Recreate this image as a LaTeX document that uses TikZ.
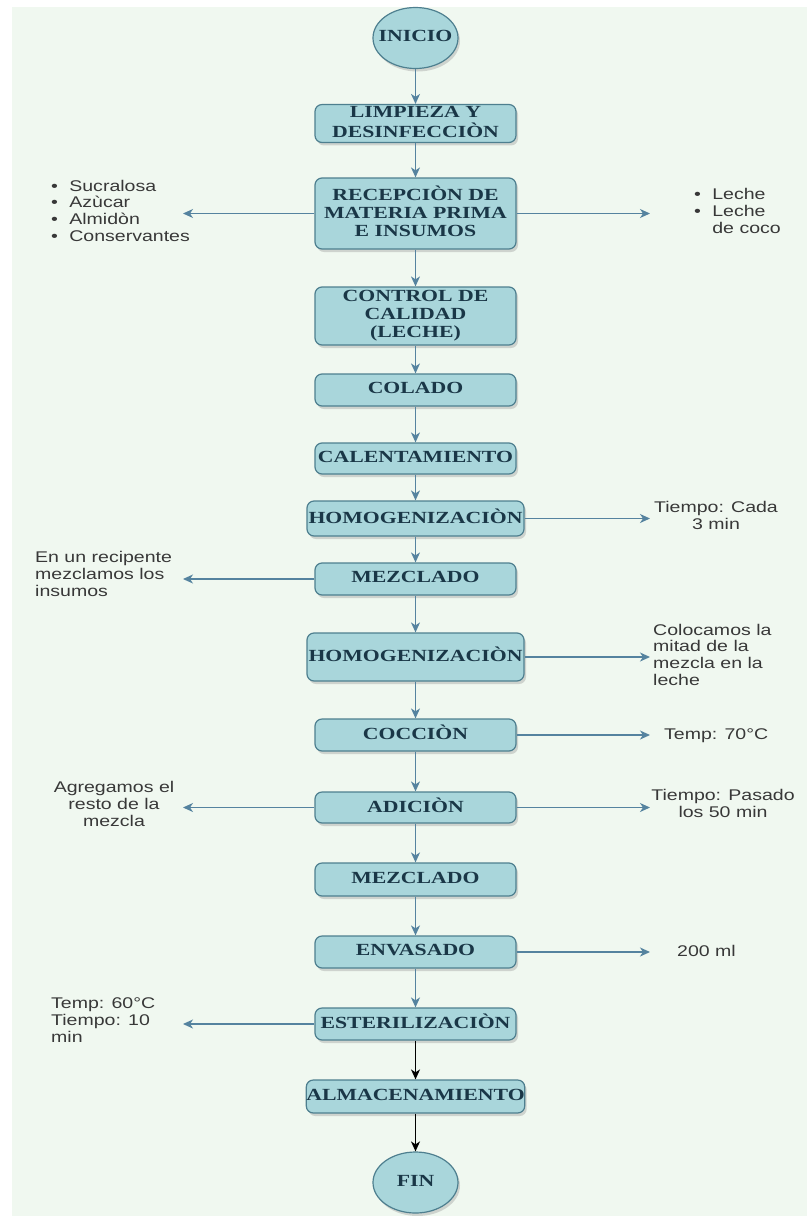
\documentclass[tikz,border=0pt]{standalone}
\usepackage{fontspec}
\usepackage{graphicx}
\setmainfont{Liberation Serif}
\setsansfont{Liberation Sans}
\usetikzlibrary{shapes.geometric,shadows,arrows.meta}
\definecolor{bgc}{HTML}{F0F8F0}
\definecolor{boxfill}{HTML}{A9D6DB}
\definecolor{boxdraw}{HTML}{4E7F8F}
\definecolor{boxtext}{HTML}{1A3747}
\definecolor{arrowc}{HTML}{55839F}
\definecolor{sidec}{HTML}{383838}
\newcommand{\bxt}[1]{\scalebox{1.28}[1]{\begin{tabular}{@{}c@{}}#1\end{tabular}}}
\newcommand{\sdc}[1]{\scalebox{1.26}[1]{\begin{tabular}{@{}c@{}}#1\end{tabular}}}
\newcommand{\sdl}[1]{\scalebox{1.26}[1]{\begin{tabular}{@{}l@{}}#1\end{tabular}}}
\newcommand{\sdb}[1]{\scalebox{1.26}[1]{\begin{tabular}{@{}l@{\hspace{9pt}}l@{}}#1\end{tabular}}}
\tikzset{
  proc/.style={rectangle, rounded corners=7pt, draw=boxdraw, line width=1.2pt,
    fill=boxfill, minimum width=201pt, inner sep=0pt, text=boxtext,
    font=\bfseries\fontsize{17}{18}\selectfont,
    drop shadow={shadow xshift=2pt, shadow yshift=-3pt, opacity=0.3}},
  wproc/.style={proc, minimum width=217pt},
  term/.style={ellipse, draw=boxdraw, line width=1.2pt, fill=boxfill,
    minimum width=85pt, minimum height=61pt, inner sep=0pt,
    drop shadow={shadow xshift=2pt, shadow yshift=-3pt, opacity=0.3}},
  termtext/.style={text=boxtext, inner sep=0pt, font=\bfseries\fontsize{17}{18}\selectfont},
  arr/.style={draw=arrowc, line width=1.3pt, -{Stealth[length=10pt,width=9pt,inset=3pt]}},
  barr/.style={draw=black, line width=1.3pt, -{Stealth[length=10pt,width=9pt,inset=3pt]}},
  side/.style={inner sep=0pt, text=sidec, font=\sffamily\fontsize{15.5}{16.8}\selectfont},
}
\begin{document}
\begin{tikzpicture}[x=1pt,y=-1pt]
\useasboundingbox (0,0) rectangle (807,1216);
\fill[bgc] (12,7) rectangle (807,1216);

\node[term, label={[termtext]center:\bxt{INICIO}}] (ini) at (415.5,38) {};
\node[proc, minimum height=37pt] (limp) at (415.5,123.5) {\bxt{LIMPIEZA Y\\DESINFECCIÒN}};
\node[proc, minimum height=71pt] (rec) at (415.5,213.5) {\bxt{RECEPCIÒN DE\\MATERIA PRIMA\\E INSUMOS}};
\node[proc, minimum height=58pt] (ctrl) at (415.5,316) {\bxt{CONTROL DE\\CALIDAD\\(LECHE)}};
\node[proc, minimum height=32pt] (col) at (415.5,390) {\bxt{COLADO}};
\node[proc, minimum height=31pt] (cal) at (415.5,458.5) {\bxt{CALENTAMIENTO}};
\node[wproc, minimum height=35pt] (hom1) at (415.5,518.5) {\bxt{HOMOGENIZACIÒN}};
\node[proc, minimum height=32pt] (mez1) at (415.5,579) {\bxt{MEZCLADO}};
\node[wproc, minimum height=48pt] (hom2) at (415.5,657) {\bxt{HOMOGENIZACIÒN}};
\node[proc, minimum height=32pt] (coc) at (415.5,735) {\bxt{COCCIÒN}};
\node[proc, minimum height=31pt] (adi) at (415.5,807.5) {\bxt{ADICIÒN}};
\node[proc, minimum height=33pt] (mez2) at (415.5,879.5) {\bxt{MEZCLADO}};
\node[proc, minimum height=32pt] (env) at (415.5,952) {\bxt{ENVASADO}};
\node[proc, minimum height=32pt] (est) at (415.5,1024) {\bxt{ESTERILIZACIÒN}};
\node[wproc, minimum height=33pt] (alm) at (415.5,1096.5) {\bxt{ALMACENAMIENTO}};
\node[term, label={[termtext]center:\bxt{FIN}}] (fin) at (415.5,1182.5) {};

\draw[arr] (ini) -- (limp);
\draw[arr] (limp) -- (rec);
\draw[arr] (rec) -- (ctrl);
\draw[arr] (ctrl) -- (col);
\draw[arr] (col) -- (cal);
\draw[arr] (cal) -- (hom1);
\draw[arr] (hom1) -- (mez1);
\draw[arr] (mez1) -- (hom2);
\draw[arr] (hom2) -- (coc);
\draw[arr] (coc) -- (adi);
\draw[arr] (adi) -- (mez2);
\draw[arr] (mez2) -- (env);
\draw[arr] (env) -- (est);
\draw[barr] (est) -- (alm);
\draw[barr] (alm) -- (fin);

% side notes
\node[side, anchor=west] (tins) at (51,213) {\sdb{\textbullet & Sucralosa\\ \textbullet & Azùcar\\ \textbullet & Almidòn\\ \textbullet & Conservantes}};
\node[side, anchor=west] (tlec) at (694,213) {\sdb{\textbullet & Leche\\ \textbullet & Leche\\ & de coco}};
\node[side] (th1) at (716,518) {\sdc{Tiempo: Cada\\3 min}};
\node[side, anchor=west] (tm1) at (35,576) {\sdl{En un recipente\\mezclamos los\\insumos}};
\node[side, anchor=west] (th2) at (653,657) {\sdl{Colocamos la\\mitad de la\\mezcla en la\\leche}};
\node[side, anchor=west] (tco) at (664,736) {\sdl{Temp: 70°C}};
\node[side] (tadl) at (114,806) {\sdc{Agregamos el\\resto de la\\mezcla}};
\node[side] (tadr) at (723,806) {\sdc{Tiempo: Pasado\\los 50 min}};
\node[side, anchor=west] (ten) at (677,953) {\sdl{200 ml}};
\node[side, anchor=west] (tes) at (51,1022) {\sdl{Temp: 60°C\\Tiempo: 10\\min}};

\coordinate (lrec) at (183,213.5);
\coordinate (rrec) at (650,213.5);
\coordinate (rh1) at (650,518.5);
\coordinate (lm1) at (183,579);
\coordinate (rh2) at (650,657);
\coordinate (rco) at (650,735);
\coordinate (lad) at (183,807.5);
\coordinate (rad) at (650,807.5);
\coordinate (ren) at (650,952);
\coordinate (les) at (183,1024);

\draw[arr] (rec.west) -- (lrec);
\draw[arr] (rec.east) -- (rrec);
\draw[arr] (hom1.east) -- (rh1);
\draw[arr] (mez1.west) -- (lm1);
\draw[arr] (hom2.east) -- (rh2);
\draw[arr] (coc.east) -- (rco);
\draw[arr] (adi.west) -- (lad);
\draw[arr] (adi.east) -- (rad);
\draw[arr] (env.east) -- (ren);
\draw[arr] (est.west) -- (les);
\end{tikzpicture}
\end{document}
